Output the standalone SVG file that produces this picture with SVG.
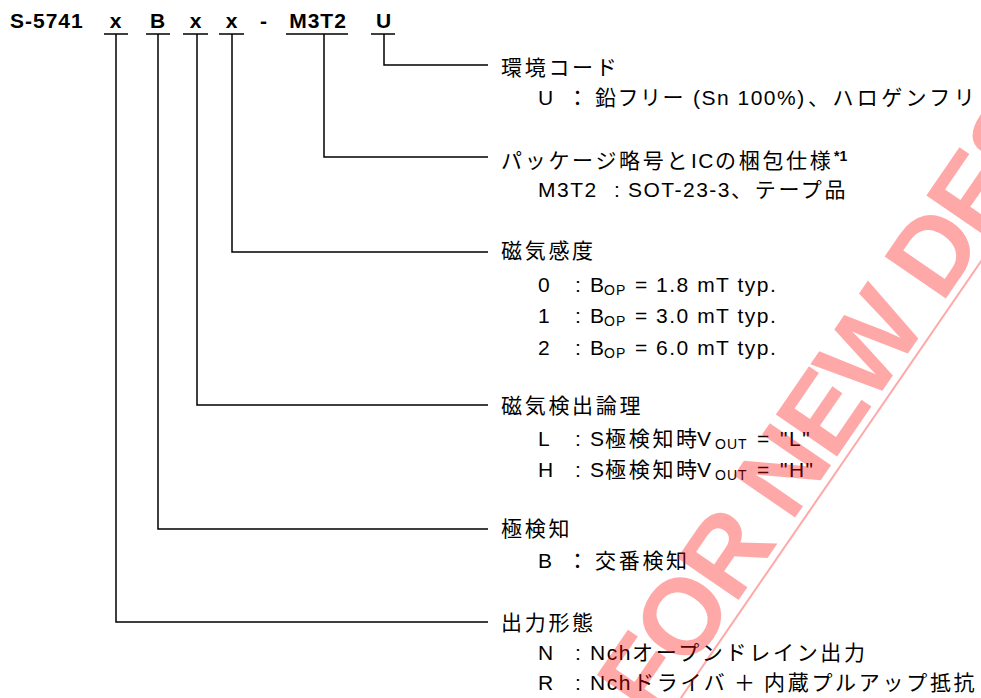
<svg xmlns="http://www.w3.org/2000/svg" width="981" height="698" viewBox="0 0 981 698">
<style>
  .hd { font-family: "Liberation Sans", Arial, sans-serif; font-weight: bold; font-size: 21px; letter-spacing: 1px; fill: #000; }
  .t { font-family: "Liberation Sans", Arial, "Noto Sans CJK JP", sans-serif; font-size: 21px; letter-spacing: 1.5px; fill: #000; }
  .j { letter-spacing: 2.7px; }
  .sub { font-size: 14px; letter-spacing: 1px; }
  .sup { font-size: 14px; font-weight: bold; letter-spacing: 0; }
  .ln { stroke: #000; stroke-width: 1.5; fill: none; }
  .wm { font-family: "Liberation Sans", Arial, sans-serif; font-weight: bold; font-size: 108px; letter-spacing: -4px; fill: #ff0000; fill-opacity: 0.34; }
  .wml { stroke: #ff0000; stroke-opacity: 0.34; stroke-width: 2; }
</style>
<rect width="981" height="698" fill="#fff"/>

<g id="header">
  <text class="hd" x="10" y="28">S-5741</text>
  <text class="hd" x="116" y="28" text-anchor="middle">x</text>
  <text class="hd" x="158" y="28" text-anchor="middle">B</text>
  <text class="hd" x="196" y="28" text-anchor="middle">x</text>
  <text class="hd" x="232" y="28" text-anchor="middle">x</text>
  <text class="hd" x="264" y="28" text-anchor="middle">-</text>
  <text class="hd" x="318" y="28" text-anchor="middle">M3T2</text>
  <text class="hd" x="384" y="28" text-anchor="middle">U</text>
  <path class="ln" d="M104,34H128 M146,34H170 M183,34H208 M219,34H244 M286,34H348 M371,34H395"/>
</g>

<g id="connectors">
  <path class="ln" d="M384,34V65H488"/>
  <path class="ln" d="M324,34V157H488"/>
  <path class="ln" d="M232,34V252H488"/>
  <path class="ln" d="M197,34V405H488"/>
  <path class="ln" d="M158,34V529H488"/>
  <path class="ln" d="M116,34V622H488"/>
</g>

<g id="env-code">
  <text class="t j" x="501" y="75">環境コード</text>
  <text class="t" y="105"><tspan x="538">U</tspan><tspan class="j" x="567">：</tspan><tspan x="595">鉛フリー</tspan><tspan x="693">(Sn 100%)</tspan><tspan class="j" x="808" style="letter-spacing:3.4px">、ハロゲンフリ</tspan></text>
</g>

<g id="package">
  <text class="t" y="168"><tspan class="j" x="501">パッケージ略号と</tspan><tspan x="691">IC</tspan><tspan class="j" x="715">の梱包仕様</tspan><tspan class="sup" x="834" y="161">*1</tspan></text>
  <text class="t" y="197"><tspan x="538">M3T2</tspan><tspan x="614">:</tspan><tspan x="628">SOT-23-3</tspan><tspan class="j" x="731">、テープ品</tspan></text>
</g>

<g id="sensitivity">
  <text class="t j" x="501" y="258">磁気感度</text>
  <text class="t" y="292"><tspan x="538">0</tspan><tspan x="575">:</tspan><tspan x="590">B</tspan><tspan class="sub" x="604" y="295">OP</tspan><tspan x="635" y="292">= 1.8 mT typ.</tspan></text>
  <text class="t" y="323"><tspan x="538">1</tspan><tspan x="575">:</tspan><tspan x="590">B</tspan><tspan class="sub" x="604" y="326">OP</tspan><tspan x="635" y="323">= 3.0 mT typ.</tspan></text>
  <text class="t" y="355"><tspan x="538">2</tspan><tspan x="575">:</tspan><tspan x="590">B</tspan><tspan class="sub" x="604" y="358">OP</tspan><tspan x="635" y="355">= 6.0 mT typ.</tspan></text>
</g>

<g id="logic">
  <text class="t j" x="501" y="413">磁気検出論理</text>
  <text class="t" y="446"><tspan x="538">L</tspan><tspan x="575">:</tspan><tspan x="590">S</tspan><tspan class="j" x="605">極検知時</tspan><tspan x="697">V</tspan><tspan class="sub" x="715" y="449">OUT</tspan><tspan x="757" y="446">=</tspan><tspan x="780">"L"</tspan></text>
  <text class="t" y="477"><tspan x="538">H</tspan><tspan x="575">:</tspan><tspan x="590">S</tspan><tspan class="j" x="605">極検知時</tspan><tspan x="697">V</tspan><tspan class="sub" x="715" y="480">OUT</tspan><tspan x="757" y="477">=</tspan><tspan x="780">"H"</tspan></text>
</g>

<g id="pole">
  <text class="t j" x="501" y="536">極検知</text>
  <text class="t" y="568"><tspan x="538">B</tspan><tspan class="j" x="567">：</tspan><tspan class="j" x="595">交番検知</tspan></text>
</g>

<g id="output">
  <text class="t j" x="501" y="630">出力形態</text>
  <text class="t" y="660"><tspan x="538">N</tspan><tspan x="575">:</tspan><tspan x="590">Nch</tspan><tspan class="j" x="632">オープンドレイン出力</tspan></text>
  <text class="t" y="690"><tspan x="538">R</tspan><tspan x="575">:</tspan><tspan x="590">Nch</tspan><tspan class="j" x="633">ドライバ</tspan><tspan class="j" x="734">＋</tspan><tspan class="j" x="764">内蔵プルアップ抵抗</tspan></text>
</g>

<g id="watermark" transform="translate(654,723) rotate(-55.5)">
  <text class="wm" x="0" y="0">FOR NEW DES</text>
  <line class="wml" x1="-300" y1="8" x2="800" y2="8"/>
</g>
</svg>
